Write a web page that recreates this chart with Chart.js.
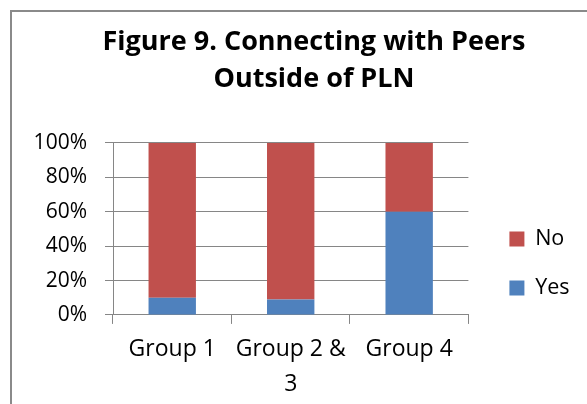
<!DOCTYPE html>
<html>
<head>
<meta charset="utf-8">
<script src="https://cdn.jsdelivr.net/npm/chart.js@4.4.1/dist/chart.umd.min.js"></script>
<style>
  body { margin: 0; background: #fff; overflow: hidden; }
  #frame { position: absolute; left: 10px; top: 10px; width: 700px; height: 500px;
           border-left: 2px solid #8a8a8a; border-top: 2px solid #8a8a8a; }
  #chart { position: absolute; left: 0; top: 0; }
</style>
</head>
<body>
<div id="frame"></div>
<canvas id="chart" width="587" height="415"></canvas>
<script>
// Categories and series (percent of respondents)
const groups = ['Group 1', ['Group 2 &', '3'], 'Group 4'];
const yesValues = [10, 9, 60];
const noValues = [90, 91, 40];
const titleLines = ['Figure 9. Connecting with Peers', 'Outside of PLN'];

const gridColor = '#868686';
const fontFamily = '"Open Sans", Lato, sans-serif';

// Chart.js glues the legend to the plot and centres the title on the canvas,
// the original has both sitting a bit further right
const nudge = {
    id: 'nudge',
    afterLayout(chart) {
        const lg = chart.legend;
        lg.left += 13.5; lg.right += 13.5;
        lg.top += 58.5; lg.bottom += 58.5;
        const tb = chart.titleBlock;
        tb.left += 31; tb.right += 31;
    }
};

const ctx = document.getElementById('chart').getContext('2d');
new Chart(ctx, {
    type: 'bar',
    data: {
        labels: groups,
        datasets: [{
            label: 'Yes',
            data: yesValues,
            backgroundColor: '#4F81BD',
            barPercentage: 0.4,
            categoryPercentage: 1
        }, {
            label: 'No',
            data: noValues,
            backgroundColor: '#C0504D',
            barPercentage: 0.4,
            categoryPercentage: 1
        }]
    },
    options: {
        responsive: false,
        animation: false,
        devicePixelRatio: 1,
        layout: { padding: { top: 0, left: 0, right: 21, bottom: 5 } },
        scales: {
            x: {
                stacked: true,
                grid: { drawOnChartArea: false, tickLength: 9, color: gridColor },
                border: { color: gridColor },
                ticks: { color: '#000', padding: 9, font: { family: fontFamily, size: 23, lineHeight: 1.48 } }
            },
            y: {
                stacked: true,
                min: 0,
                max: 100,
                afterFit: (scale) => { scale.width = 113; },
                grid: { tickLength: 8, color: gridColor },
                border: { color: gridColor },
                ticks: {
                    stepSize: 20,
                    color: '#000',
                    padding: 18,
                    font: { family: fontFamily, size: 21 },
                    callback: (v) => v + '%'
                }
            }
        },
        plugins: {
            title: {
                display: true,
                text: titleLines,
                color: '#000',
                font: { family: fontFamily, size: 27, weight: 'bold', lineHeight: 1.37 },
                padding: { top: 23.5, bottom: 45.5 }
            },
            legend: {
                position: 'right',
                reverse: true,
                labels: {
                    boxWidth: 15,
                    boxHeight: 15,
                    padding: 27.5,
                    color: '#000',
                    font: { family: fontFamily, size: 21.5 }
                }
            },
            tooltip: { enabled: false }
        }
    },
    plugins: [nudge]
});
</script>
</body>
</html>
